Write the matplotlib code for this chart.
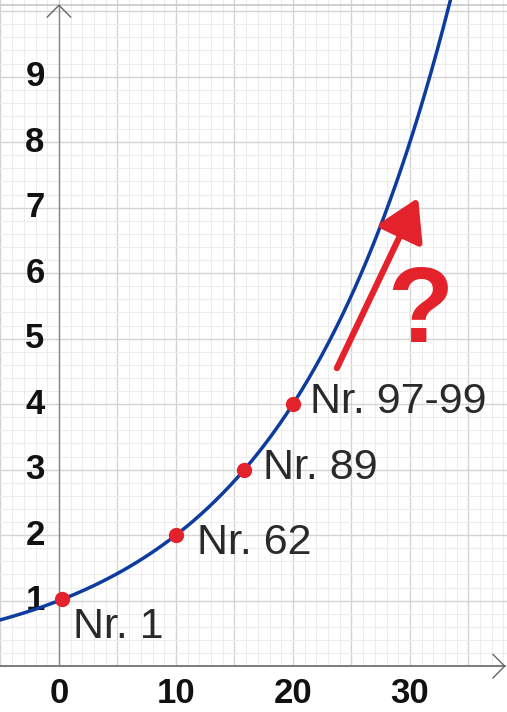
import numpy as np
import matplotlib.pyplot as plt
from matplotlib.patches import FancyArrowPatch, Rectangle

# data
doubling = 10                                # 10 Nummern -> Verdopplung
pt_x = [0.3, 10, 15.85, 20]
pt_y = [1.02, 2, 3, 4]
pt_lab = ['Nr. 1', 'Nr. 62', 'Nr. 89', 'Nr. 97-99']
lab_x = [1.2, 11.8, 17.4, 21.5]
lab_y = [0.6, 1.88, 3.02, 4.03]
xticks = [0, 10, 20, 30]
yticks = [1, 2, 3, 4, 5, 6, 7, 8, 9]

blue = '#0d3b9e'
red = '#e3222b'

fig = plt.figure(figsize=(5.07, 7.12), dpi=100)
ax = fig.add_axes([0, 0, 1, 1])
x0, x1 = -5.04, 38.3
y0, y1 = -0.70, 10.17
ax.set_xlim(x0, x1)
ax.set_ylim(y0, y1)
for s in ax.spines.values():
    s.set_visible(False)

# grid
ax.set_xticks(np.arange(-5, 39, 5))
ax.set_xticks(np.arange(-5, 39, 1), minor=True)
ax.set_yticks(np.arange(0, 11, 1))
ax.set_yticks(np.arange(0, 10.2, 0.2), minor=True)
ax.tick_params(which='both', length=0, labelbottom=False, labelleft=False)
ax.grid(which='major', color='#d4d4d4', lw=1.0)
ax.grid(which='minor', color='#ededed', lw=0.8)
ax.set_axisbelow(True)
ax.add_patch(Rectangle((x0, y0), x1 - x0, -y0, color='white', zorder=0.9, lw=0))
ax.axhline(10.09, color='#c8c8c8', lw=1.2, zorder=1)

# Achsen mit Pfeilspitzen
ax.plot([x0, 38.1], [0, 0], color='#666666', lw=1.2, zorder=2)
ax.plot([37.1, 38.1, 37.1], [0.18, 0, -0.18], color='#666666', lw=1.0, zorder=2)
ax.plot([0, 0], [0, 10.09], color='#888888', lw=1.0, zorder=2)
ax.plot([-1.0, 0, 1.0], [9.91, 10.09, 9.91], color='#666666', lw=1.0, zorder=2)

# Achsenbeschriftung
for t in xticks:
    ax.text(t, -0.41, str(t), ha='center', va='center', fontsize=25,
            fontweight='bold', family='Liberation Sans', color='#111111')
for t in yticks:
    ax.text(-2.05, t, str(t), ha='center', va='center', fontsize=25,
            fontweight='bold', family='Liberation Sans', color='#111111')

# Kurve
xs = np.linspace(x0, 35, 400)
ax.plot(xs, 2 ** (xs / doubling), color=blue, lw=2.5, zorder=3)
ax.plot(pt_x, pt_y, 'o', color=red, ms=10, zorder=4)
for lx, ly, s in zip(lab_x, lab_y, pt_lab):
    ax.text(lx, ly, s, ha='left', va='center', fontsize=31,
            family='Liberation Sans', color='#2a2a2a', zorder=5)

# Pfeil und Fragezeichen
arr = FancyArrowPatch((23.76, 4.55), (30.7, 7.15),
                      arrowstyle='-|>,head_length=1.0,head_width=0.6',
                      mutation_scale=25, lw=4.5, color=red,
                      shrinkA=0, shrinkB=0, zorder=5)
ax.add_patch(arr)
ax.text(30.85, 5.37, '?', ha='center', va='center', fontsize=78,
        fontweight='bold', family='Liberation Sans', color=red, zorder=5)

plt.savefig('out.png', dpi=100)
